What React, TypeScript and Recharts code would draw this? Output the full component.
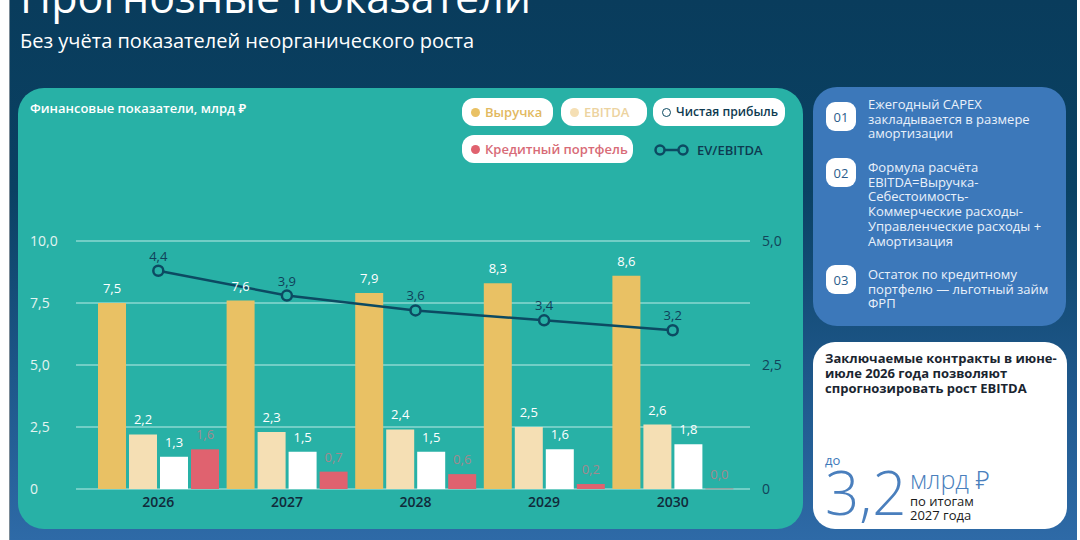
import React from 'react';
import {
  ComposedChart,
  Bar,
  Line,
  XAxis,
  YAxis,
  CartesianGrid,
  LabelList,
} from 'recharts';

// Financial forecast, bn RUB
const years = ['2026', '2027', '2028', '2029', '2030'];
const revenue = [7.5, 7.6, 7.9, 8.3, 8.6];
const ebitda = [2.2, 2.3, 2.4, 2.5, 2.6];
const netProfit = [1.3, 1.5, 1.5, 1.6, 1.8];
const creditPortfolio = [1.6, 0.7, 0.6, 0.2, 0.0];
const evEbitda = [4.4, 3.9, 3.6, 3.4, 3.2];
const leftTicks = [0, 2.5, 5, 7.5, 10];
const rightTicks = [0, 2.5, 5];

const data = years.map((year, i) => ({
  year,
  revenue: revenue[i],
  ebitda: ebitda[i],
  netProfit: netProfit[i],
  credit: creditPortfolio[i],
  ev: evEbitda[i],
}));

const FONT = '"Open Sans", "Noto Sans", sans-serif';
const TEAL = '#28b1a6';
const NAVY = '#0c4a62';
const GOLD = '#e9c164';
const BEIGE = '#f5dfb4';
const PINK = '#e0626f';
const PANEL_BLUE = '#3c78ba';

const fmt = (v: any) => {
  const n = Number(v);
  if (n === 0) return '0';
  return n.toFixed(1).replace('.', ',');
};
const fmtLabel = (v: any) => Number(v).toFixed(1).replace('.', ',');

const LeftTick = ({ y, payload }: any) => (
  <text x={12} y={y} dy="0.35em" fill="#e4f4f1" fontSize={14} fontFamily={FONT} textAnchor="start">
    {fmt(payload.value)}
  </text>
);

const RightTick = ({ x, y, payload }: any) => (
  <text x={x + 4} y={y} dy="0.35em" fill="#12445a" fontSize={14} fontFamily={FONT} textAnchor="start">
    {fmt(payload.value)}
  </text>
);

// zero-height bar still shows a faint stub
const CreditShape = (props: any) => {
  const { x, y, width, height } = props;
  if (!height || height < 1) {
    return <rect x={x} y={y - 1} width={width} height={1.5} fill="#8fa6a3" />;
  }
  return <rect x={x} y={y} width={width} height={height} fill={PINK} />;
};

const Pill = ({ left, top, width, color, textColor, label, hollow, fontSize = 13 }: any) => (
  <div
    style={{
      position: 'absolute',
      left,
      top,
      width,
      height: 28,
      background: '#fff',
      borderRadius: 12,
      display: 'flex',
      alignItems: 'center',
      paddingLeft: 9,
      boxSizing: 'border-box',
      gap: 5,
      whiteSpace: 'nowrap',
    }}
  >
    <div
      style={{
        width: hollow ? 7 : 9,
        height: hollow ? 7 : 9,
        flex: 'none',
        borderRadius: '50%',
        background: hollow ? '#fff' : color,
        border: hollow ? `1.5px solid ${color}` : 'none',
      }}
    />
    <span style={{ color: textColor, fontSize, fontWeight: 600, lineHeight: '16px' }}>{label}</span>
  </div>
);

const Badge = ({ top, text }: any) => (
  <div
    style={{
      position: 'absolute',
      left: 13,
      top,
      width: 30,
      height: 29,
      borderRadius: 9,
      background: '#fff',
      color: '#2b5d8c',
      fontSize: 13,
      display: 'flex',
      alignItems: 'center',
      justifyContent: 'center',
    }}
  >
    {text}
  </div>
);

const Note = ({ top, children }: any) => (
  <div
    style={{
      position: 'absolute',
      left: 55,
      top,
      width: 195,
      fontSize: 13,
      lineHeight: '14.7px',
      color: '#eaf1fa',
    }}
  >
    {children}
  </div>
);

export default function App() {
  return (
    <div
      style={{
        position: 'absolute',
        left: 0,
        top: 0,
        width: 1080,
        height: 540,
        overflow: 'hidden',
        background: '#fff',
        fontFamily: FONT,
      }}
    >
      {/* page background */}
      <div
        style={{
          position: 'absolute',
          left: 9,
          top: 0,
          width: 1067,
          height: 540,
          background: 'linear-gradient(180deg, #093c5c 0%, #0a4163 35%, #1e578a 70%, #2e6aa7 100%)',
          borderLeft: '1px solid #7a8a96',
        }}
      />

      {/* titles */}
      <div
        style={{
          position: 'absolute',
          left: 20,
          top: -25,
          fontSize: 43,
          lineHeight: '44px',
          color: '#fff',
          whiteSpace: 'nowrap',
        }}
      >
        Прогнозные показатели
      </div>
      <div
        style={{
          position: 'absolute',
          left: 20,
          top: 29,
          fontSize: 20,
          lineHeight: '24px',
          color: '#fff',
          whiteSpace: 'nowrap',
        }}
      >
        Без учёта показателей неорганического роста
      </div>

      {/* chart panel */}
      <div
        style={{
          position: 'absolute',
          left: 18,
          top: 88,
          width: 785,
          height: 441,
          borderRadius: 26,
          background: TEAL,
        }}
      />
      <div
        style={{
          position: 'absolute',
          left: 30,
          top: 99,
          fontSize: 13,
          lineHeight: '18px',
          fontWeight: 600,
          color: '#fff',
          whiteSpace: 'nowrap',
        }}
      >
        Финансовые показатели, млрд ₽
      </div>

      {/* legend */}
      <Pill left={462} top={98} width={91} color={GOLD} textColor="#e2b95f" label="Выручка" />
      <Pill left={561} top={98} width={86} color={BEIGE} textColor="#ecd3a0" label="EBITDA" />
      <Pill left={653} top={98} width={132} color={NAVY} textColor="#0e3a50" label="Чистая прибыль" hollow fontSize={12.2} />
      <Pill left={462} top={135} width={171} color={PINK} textColor="#d86b77" label="Кредитный портфель" />
      <div style={{ position: 'absolute', left: 654, top: 141, display: 'flex', alignItems: 'center' }}>
        <svg width={36} height={16}>
          <line x1={6} y1={8} x2={29} y2={8} stroke={NAVY} strokeWidth={2.5} />
          <circle cx={6} cy={8} r={4.5} fill={TEAL} stroke={NAVY} strokeWidth={2.5} />
          <circle cx={29} cy={8} r={4.5} fill={TEAL} stroke={NAVY} strokeWidth={2.5} />
        </svg>
        <span style={{ marginLeft: 7, color: '#0e3a50', fontSize: 13, fontWeight: 600 }}>EV/EBITDA</span>
      </div>

      {/* chart */}
      <div style={{ position: 'absolute', left: 18, top: 200 }}>
        <ComposedChart
          width={785}
          height={330}
          data={data}
          margin={{ top: 41, right: 0, left: 0, bottom: 11 }}
          barSize={28}
          barGap={3}
        >
          <CartesianGrid yAxisId="left" horizontal vertical={false} stroke="#8bd8d1" strokeWidth={1.5} />
          <XAxis
            dataKey="year"
            axisLine={false}
            tickLine={false}
            padding={{ left: 18, right: 13 }}
            height={30}
            tick={{ fill: '#112a3a', fontSize: 14, fontWeight: 600, fontFamily: FONT }}
          />
          <YAxis
            yAxisId="left"
            orientation="left"
            width={58}
            domain={[0, 10]}
            ticks={leftTicks}
            axisLine={false}
            tickLine={false}
            tick={<LeftTick />}
          />
          <YAxis
            yAxisId="right"
            orientation="right"
            width={53}
            domain={[0, 5]}
            ticks={rightTicks}
            axisLine={false}
            tickLine={false}
            tick={<RightTick />}
          />

          <Bar yAxisId="left" dataKey="revenue" fill={GOLD} isAnimationActive={false}>
            <LabelList dataKey="revenue" position="top" offset={10} fill="#ffffff" fontSize={13} fontFamily={FONT} formatter={fmtLabel} />
          </Bar>
          <Bar yAxisId="left" dataKey="ebitda" fill={BEIGE} isAnimationActive={false}>
            <LabelList dataKey="ebitda" position="top" offset={10} fill="#ffffff" fontSize={13} fontFamily={FONT} formatter={fmtLabel} />
          </Bar>
          <Bar yAxisId="left" dataKey="netProfit" fill="#ffffff" isAnimationActive={false}>
            <LabelList dataKey="netProfit" position="top" offset={10} fill="#ffffff" fontSize={13} fontFamily={FONT} formatter={fmtLabel} />
          </Bar>
          <Bar yAxisId="left" dataKey="credit" fill={PINK} shape={<CreditShape />} isAnimationActive={false}>
            <LabelList dataKey="credit" position="top" offset={10} fill="#a08a8e" fontSize={13} fontFamily={FONT} formatter={fmtLabel} />
          </Bar>

          <Line
            yAxisId="right"
            type="linear"
            dataKey="ev"
            stroke={NAVY}
            strokeWidth={2.5}
            dot={{ r: 5, fill: TEAL, stroke: NAVY, strokeWidth: 2.5 }}
            activeDot={false}
            isAnimationActive={false}
          >
            <LabelList dataKey="ev" position="top" offset={10} fill="#10415a" fontSize={13} fontFamily={FONT} formatter={fmtLabel} />
          </Line>
        </ComposedChart>
      </div>

      {/* notes panel */}
      <div
        style={{
          position: 'absolute',
          left: 813,
          top: 87,
          width: 253,
          height: 239,
          borderRadius: 24,
          background: PANEL_BLUE,
        }}
      >
        <Badge top={15} text="01" />
        <Note top={10}>
          Ежегодный CAPEX
          <br />
          закладывается в размере
          <br />
          амортизации
        </Note>
        <Badge top={71} text="02" />
        <Note top={73}>
          Формула расчёта
          <br />
          EBITDA=Выручка-
          <br />
          Себестоимость-
          <br />
          Коммерческие расходы-
          <br />
          Управленческие расходы +
          <br />
          Амортизация
        </Note>
        <Badge top={178} text="03" />
        <Note top={180}>
          Остаток по кредитному
          <br />
          портфелю — льготный займ
          <br />
          ФРП
        </Note>
      </div>

      {/* highlight panel */}
      <div
        style={{
          position: 'absolute',
          left: 813,
          top: 342,
          width: 254,
          height: 187,
          borderRadius: 22,
          background: '#fff',
        }}
      >
        <div
          style={{
            position: 'absolute',
            left: 12,
            top: 9,
            fontSize: 13,
            lineHeight: '14.8px',
            fontWeight: 700,
            color: '#1a2530',
            whiteSpace: 'nowrap',
          }}
        >
          Заключаемые контракты в июне-
          <br />
          июле 2026 года позволяют
          <br />
          спрогнозировать рост EBITDA
        </div>
        <div
          style={{ position: 'absolute', left: 12, top: 111, fontSize: 13, lineHeight: '14px', color: PANEL_BLUE }}
        >
          до
        </div>
        <div
          style={{
            position: 'absolute',
            left: 12,
            top: 126,
            fontSize: 60,
            lineHeight: '48px',
            fontWeight: 300,
            color: '#4a7fbd',
          }}
        >
          3,2
        </div>
        <div
          style={{
            position: 'absolute',
            left: 97,
            top: 125,
            fontSize: 25,
            lineHeight: '24px',
            fontWeight: 300,
            color: '#4a7fbd',
            whiteSpace: 'nowrap',
          }}
        >
          млрд ₽
        </div>
        <div
          style={{
            position: 'absolute',
            left: 97,
            top: 152,
            fontSize: 13,
            lineHeight: '14px',
            color: '#1a1a1a',
            whiteSpace: 'nowrap',
          }}
        >
          по итогам
          <br />
          2027 года
        </div>
      </div>
    </div>
  );
}
